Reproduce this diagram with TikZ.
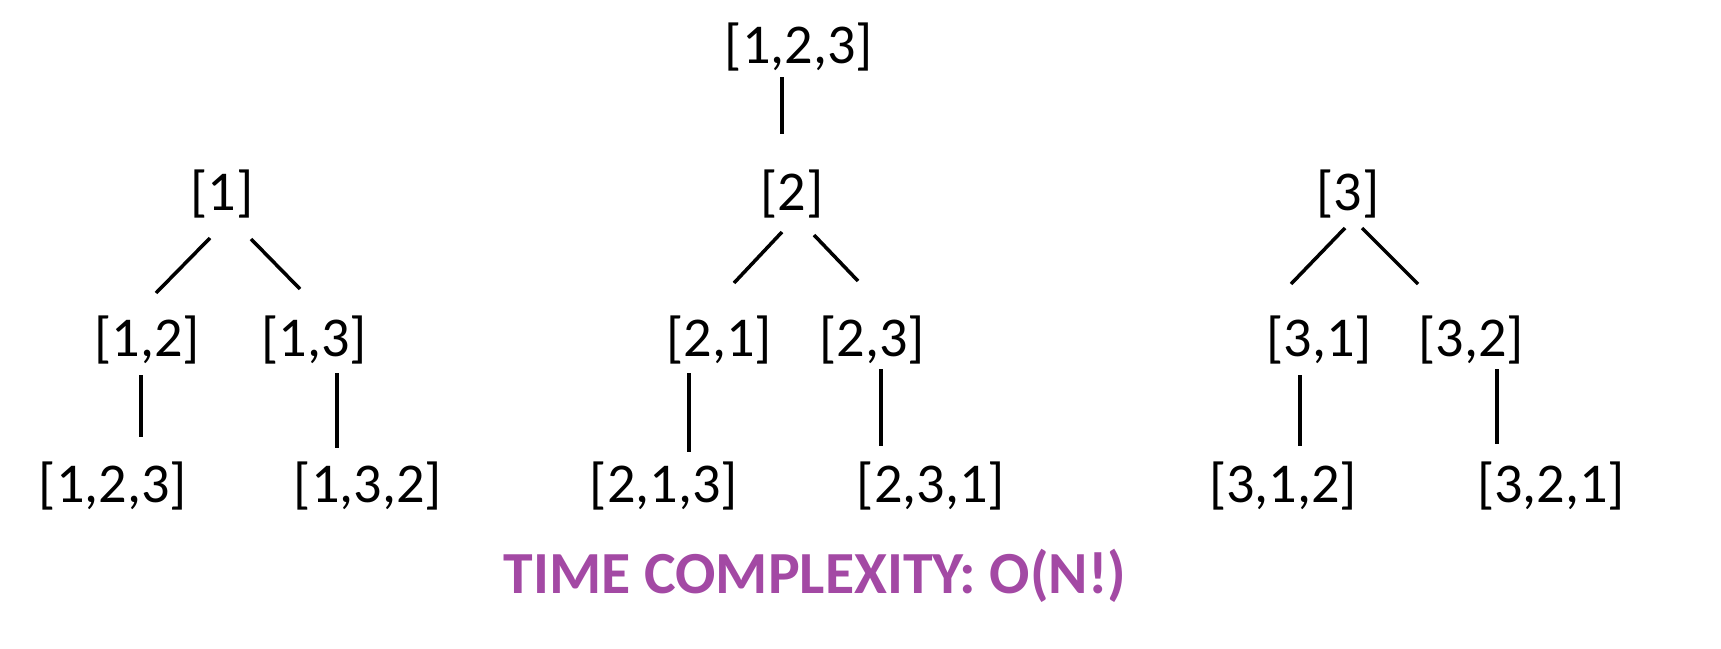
\documentclass[tikz,border=0pt]{standalone}
\usepackage{fontspec}
\setmainfont{Carlito}
\usetikzlibrary{calc}
\definecolor{TCPurple}{HTML}{A349A4}
\tikzset{
  perm/.style={inner sep=0pt,font=\fontsize{32}{38}\selectfont},
  edge/.style={black,line width=2pt},
}

\begin{document}
\begin{tikzpicture}[x=0.02cm,y=-0.02cm]
\path[use as bounding box] (0,0) rectangle (1721,649);
\fill[white] (0,0) rectangle (1721,649);
% root and first level
\node[perm] (root) at (799,47) {[1,2,3]};
\node[perm] (p1) at (222,194) {[1]};
\node[perm] (p2) at (792,194) {[2]};
\node[perm] (p3) at (1348,194) {[3]};
% second level
\node[perm] (p12) at (147,340) {[1,2]};
\node[perm] (p13) at (314,340) {[1,3]};
\node[perm] (p21) at (719,340) {[2,1]};
\node[perm] (p23) at (872,340) {[2,3]};
\node[perm] (p31) at (1319,340) {[3,1]};
\node[perm] (p32) at (1471,340) {[3,2]};
% leaves
\node[perm] (p123) at (113,486) {[1,2,3]};
\node[perm] (p132) at (368,486) {[1,3,2]};
\node[perm] (p213) at (664,486) {[2,1,3]};
\node[perm] (p231) at (931,486) {[2,3,1]};
\node[perm] (p312) at (1283,486) {[3,1,2]};
\node[perm] (p321) at (1551,486) {[3,2,1]};
% edges
\draw[edge] ($(root)+(-17,30)$) -- ($(p2)+(-10,-60)$);
\draw[edge] ($(p1)+(-12,44)$) -- ($(p12)+(9,-47)$);
\draw[edge] ($(p1)+(29,45)$) -- ($(p13)+(-14,-51)$);
\draw[edge] ($(p2)+(-10,38)$) -- ($(p21)+(15,-57)$);
\draw[edge] ($(p2)+(22,41)$) -- ($(p23)+(-14,-59)$);
\draw[edge] ($(p3)+(-3,34)$) -- ($(p31)+(-28,-56)$);
\draw[edge] ($(p3)+(14,34)$) -- ($(p32)+(-53,-56)$);
\draw[edge] ($(p12)+(-6,35)$) -- ($(p123)+(28,-49)$);
\draw[edge] ($(p13)+(23,33)$) -- ($(p132)+(-31,-38)$);
\draw[edge] ($(p21)+(-30,33)$) -- ($(p213)+(25,-34)$);
\draw[edge] ($(p23)+(9,29)$) -- ($(p231)+(-50,-40)$);
\draw[edge] ($(p31)+(-19,35)$) -- ($(p312)+(17,-40)$);
\draw[edge] ($(p32)+(26,29)$) -- ($(p321)+(-54,-42)$);
% caption
\node[anchor=base,text=TCPurple,font=\fontsize{34}{40}\selectfont\bfseries] (tc) at (815,593) {TIME COMPLEXITY: O(N!)};
\end{tikzpicture}
\end{document}
